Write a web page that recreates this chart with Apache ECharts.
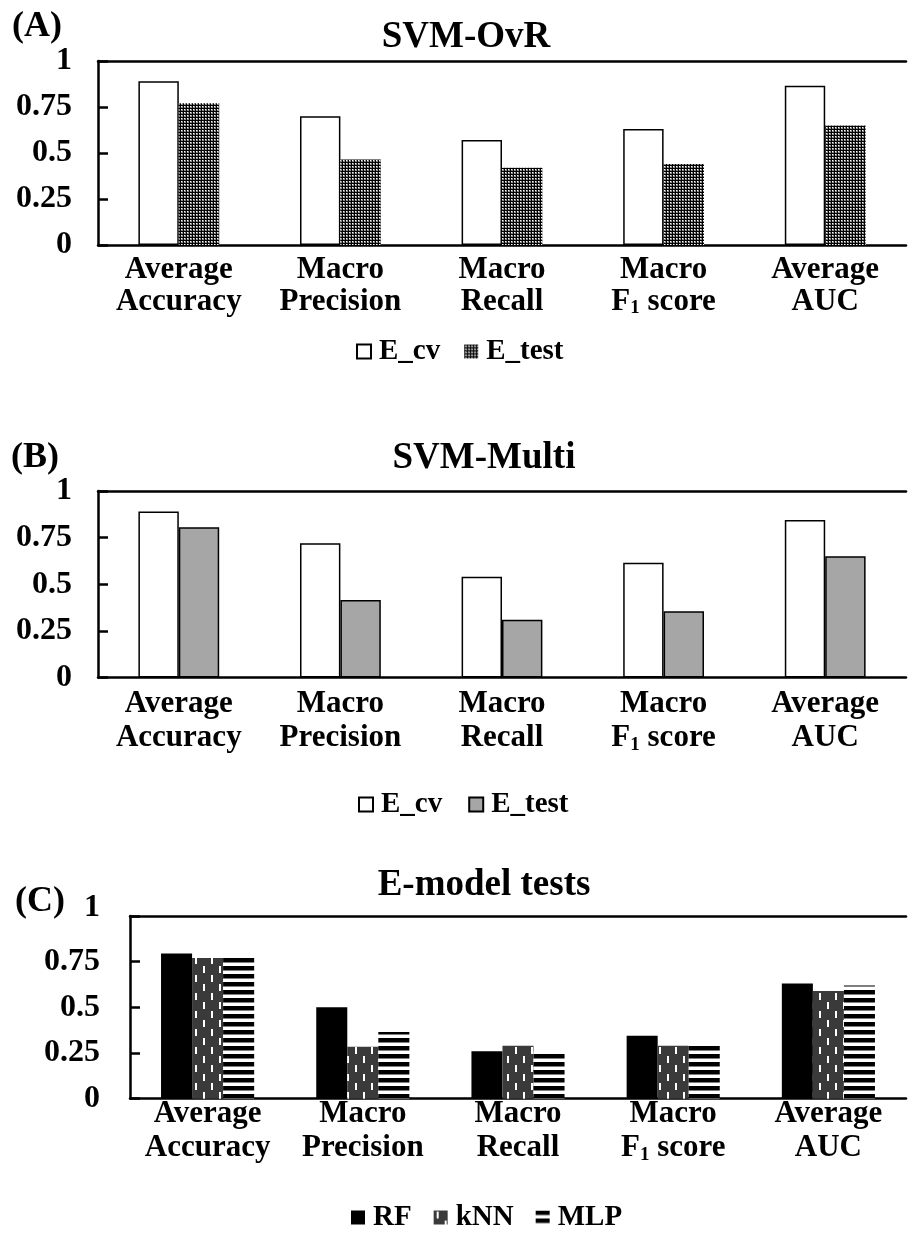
<!DOCTYPE html>
<html><head><meta charset="utf-8">
<script src="https://cdn.jsdelivr.net/npm/echarts@6/dist/echarts.min.js"></script>
<style>
html,body{margin:0;padding:0;background:#fff;}
#wrap{position:relative;width:908px;height:1244px;overflow:hidden;}
.panel{position:absolute;left:0;width:908px;}
</style></head><body>
<div id="wrap">
  <div id="pa" class="panel" style="top:0;height:400px"></div>
  <div id="pb" class="panel" style="top:420px;height:410px"></div>
  <div id="pc" class="panel" style="top:830px;height:414px"></div>
</div>
<script>
// Metric categories (two-line labels; F1 uses a rich-text subscript)
const categories = ['Average\nAccuracy', 'Macro\nPrecision', 'Macro\nRecall', 'Macro\nF{sub|1} score', 'Average\nAUC'];

// (A) SVM one-vs-rest
const ovrCv   = [0.89, 0.70, 0.57, 0.63, 0.865];
const ovrTest = [0.77, 0.465, 0.42, 0.44, 0.65];

// (B) SVM multi-class
const multiCv   = [0.89, 0.72, 0.54, 0.615, 0.845];
const multiTest = [0.805, 0.415, 0.31, 0.355, 0.65];

// (C) E-model tests
const rfVals  = [0.795, 0.50, 0.26, 0.345, 0.63];
const knnVals = [0.77, 0.285, 0.29, 0.29, 0.59];
const mlpVals = [0.77, 0.365, 0.26, 0.305, 0.62];

const yMin = 0, yMax = 1, yStep = 0.25;

const FONT = '"Liberation Serif", "Times New Roman", serif';
const LABEL_SIZE = 31;

// ---- fill patterns ----
function tile(w, h, draw) {
  const c = document.createElement('canvas');
  c.width = w; c.height = h;
  const g = c.getContext('2d');
  draw(g);
  return { image: c, repeat: 'repeat' };
}
// fine dotted fill
const dotFill = tile(3, 3, g => {
  g.fillStyle = '#000'; g.fillRect(0, 0, 3, 3);
  g.fillStyle = '#8a8a8a'; g.fillRect(1, 1, 2, 2);
  g.fillStyle = '#fff'; g.fillRect(1, 1, 1, 1);
});
// dark fill with staggered white vertical dashes
const dashFill = tile(16, 18, g => {
  g.fillStyle = '#3a3a3a'; g.fillRect(0, 0, 16, 18);
  g.fillStyle = '#fff';
  g.fillRect(3, 1, 2, 7);
  g.fillRect(11, 10, 2, 7);
});
// horizontal black stripes
const stripeFill = tile(8, 8, g => {
  g.fillStyle = '#fff'; g.fillRect(0, 0, 8, 8);
  g.fillStyle = '#000'; g.fillRect(0, 0, 8, 4.5);
});

function axesFor(grid, labelMargin, xMargin, xLineHeight, liftTop) {
  return {
    grid: Object.assign({ containLabel: false }, grid),
    xAxis: [{
      type: 'category', data: categories, position: 'bottom',
      axisLine: { lineStyle: { color: '#000', width: 2.5 } },
      axisTick: { show: false },
      axisLabel: {
        interval: 0, margin: xMargin, color: '#000', fontFamily: FONT, fontWeight: 'bold',
        fontSize: LABEL_SIZE, lineHeight: xLineHeight,
        rich: { sub: { fontFamily: FONT, fontWeight: 'bold', fontSize: 19, color: '#000', verticalAlign: 'bottom', lineHeight: 25 } }
      }
    }, {
      type: 'category', data: categories, position: 'top',
      axisLine: { lineStyle: { color: '#000', width: 2.5 } },
      axisTick: { show: false }, axisLabel: { show: false }
    }],
    yAxis: {
      type: 'value', min: yMin, max: yMax, interval: yStep,
      axisLine: { show: true, lineStyle: { color: '#000', width: 2.5 } },
      axisTick: { show: true, inside: true, length: 10, lineStyle: { color: '#000', width: 2.5 } },
      splitLine: { show: false },
      axisLabel: {
        margin: labelMargin, color: '#000', fontFamily: FONT, fontWeight: 'bold', fontSize: 32,
        formatter: v => (liftTop && v === yMax) ? '{up|' + v + '}' : String(v),
        rich: { up: { fontFamily: FONT, fontWeight: 'bold', fontSize: 32, color: '#000', padding: [0, 0, 16, 0] } }
      }
    }
  };
}

function legendAt(left, top, items, gap) {
  return {
    left: left, top: top, padding: 0, itemGap: gap, itemWidth: 14, itemHeight: 14,
    selectedMode: false, icon: 'rect',
    textStyle: { color: '#000', fontFamily: FONT, fontWeight: 'bold', fontSize: 29, padding: [2, 0, 0, 3] },
    data: items
  };
}

function text(x, y, s, size, align) {
  return {
    type: 'text', x: x, y: y,
    style: { text: s, font: 'bold ' + size + 'px ' + FONT, fill: '#000', align: align || 'center', verticalAlign: 'middle' }
  };
}

// ---- (A) ----
const chartA = echarts.init(document.getElementById('pa'), null, { renderer: 'canvas' });
const optA = axesFor({ left: 98, right: 2, top: 61, bottom: 155 }, 26, 9, 32, false);
optA.animation = false;
optA.legend = legendAt(356, 337, ['E_cv', 'E_test'], 24);
optA.graphic = [text(37, 27, '(A)', 36), text(466, 37, 'SVM-OvR', 37)];
optA.series = [
  { name: 'E_cv', type: 'bar', data: ovrCv, barWidth: '25%', barGap: '0%',
    itemStyle: { color: '#fff', borderColor: '#000', borderWidth: 1.5 } },
  { name: 'E_test', type: 'bar', data: ovrTest, barWidth: '25%', barGap: '0%',
    itemStyle: { color: dotFill, borderWidth: 0 } }
];
chartA.setOption(optA);

// ---- (B) ----
const chartB = echarts.init(document.getElementById('pb'), null, { renderer: 'canvas' });
const optB = axesFor({ left: 98, right: 2, top: 71, bottom: 152.5 }, 26, 9, 34, false);
optB.animation = false;
optB.legend = legendAt(358, 370, ['E_cv', 'E_test'], 26);
optB.graphic = [text(35, 38, '(B)', 36), text(484, 38, 'SVM-Multi', 37)];
optB.series = [
  { name: 'E_cv', type: 'bar', data: multiCv, barWidth: '25%', barGap: '0%',
    itemStyle: { color: '#fff', borderColor: '#000', borderWidth: 1.5 } },
  { name: 'E_test', type: 'bar', data: multiTest, barWidth: '25%', barGap: '0%',
    itemStyle: { color: '#a6a6a6', borderColor: '#000', borderWidth: 1.5 } }
];
chartB.setOption(optB);

// ---- (C) ----
const chartC = echarts.init(document.getElementById('pc'), null, { renderer: 'canvas' });
const optC = axesFor({ left: 130, right: 2, top: 86, bottom: 145.3 }, 30, -2, 34, true);
optC.animation = false;
optC.legend = legendAt(351, 373, ['RF', 'kNN', 'MLP'], 22);
optC.graphic = [text(40, 72, '(C)', 36), text(484, 55, 'E-model tests', 37)];
optC.series = [
  { name: 'RF', type: 'bar', data: rfVals, barWidth: '20%', barGap: '0%', itemStyle: { color: '#000' } },
  { name: 'kNN', type: 'bar', data: knnVals, barWidth: '20%', barGap: '0%', itemStyle: { color: dashFill } },
  { name: 'MLP', type: 'bar', data: mlpVals, barWidth: '20%', barGap: '0%', itemStyle: { color: stripeFill } }
];
chartC.setOption(optC);
</script>
</body></html>
